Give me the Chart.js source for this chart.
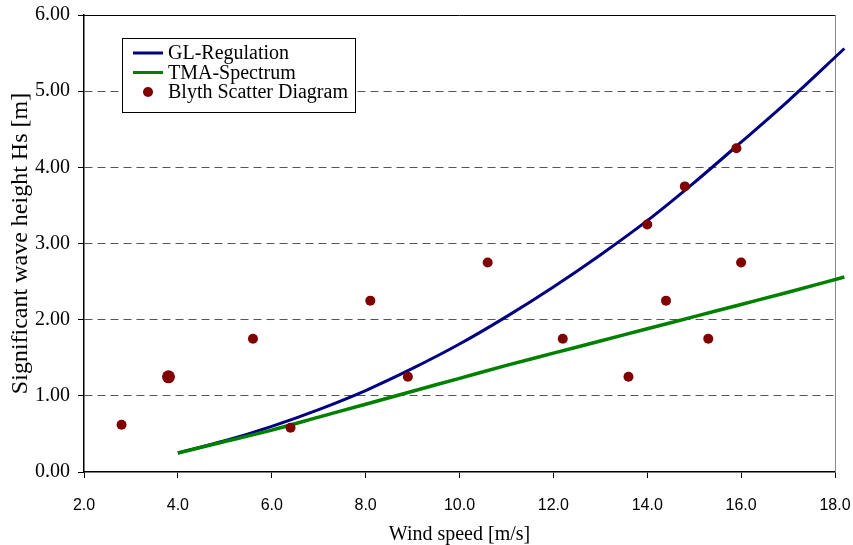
<!DOCTYPE html>
<html>
<head>
<meta charset="utf-8">
<script src="https://cdn.jsdelivr.net/npm/chart.js@4/dist/chart.umd.min.js"></script>
<style>
    html, body { margin: 0; padding: 0; background: #fff; }
    #wrap { width: 853px; height: 545px; }
</style>
</head>
<body>
<div id="wrap"><canvas id="waveChart" width="853" height="545"></canvas></div>
<script>
// ==================== ДАННЫЕ ====================

const seriesNames = ['GL-Regulation', 'TMA-Spectrum', 'Blyth Scatter Diagram'];

// ось X кривых (скорость ветра, м/с); последняя точка чуть за краем оси, как на оригинале
const curveWind = [4, 5, 6, 7, 8, 9, 10, 11, 12, 13, 14, 15, 16, 17, 18.2];
const glRegulation = [0.25, 0.41, 0.60, 0.82, 1.07, 1.36, 1.68, 2.04, 2.43, 2.85, 3.30, 3.80, 4.33, 4.87, 5.56];
const tmaSpectrum = [0.25, 0.40, 0.55, 0.72, 0.89, 1.06, 1.23, 1.40, 1.56, 1.72, 1.88, 2.04, 2.20, 2.36, 2.56];

// точки Blyth
const blythWind = [2.8, 3.8, 5.6, 6.4, 8.1, 8.9, 10.6, 12.2, 13.6, 14.0, 14.4, 14.8, 15.3, 15.9, 16.0];
const blythHs = [0.62, 1.25, 1.75, 0.58, 2.25, 1.25, 2.75, 1.75, 1.25, 3.25, 2.25, 3.75, 1.75, 4.25, 2.75];

const xRange = [2, 18];
const yRange = [0, 6];

function toPoints(xs, ys) {
    return xs.map((x, i) => ({ x: x, y: ys[i] }));
}

// ==================== ПЛАГИНЫ ====================

const serif = '"Liberation Serif", "Times New Roman", serif';
const sans = '"Liberation Sans", Arial, sans-serif';

// верхняя и правая рамка области графика
const frameLines = {
    id: 'frameLines',
    beforeDatasetsDraw(chart) {
        const { ctx, chartArea: a } = chart;
        ctx.save();
        ctx.lineWidth = 1;
        ctx.strokeStyle = '#000';
        ctx.beginPath();
        ctx.moveTo(a.left, a.top + 0.5);
        ctx.lineTo(a.right, a.top + 0.5);
        ctx.stroke();
        ctx.strokeStyle = '#888';
        ctx.beginPath();
        ctx.moveTo(a.right + 0.5, a.top);
        ctx.lineTo(a.right + 0.5, a.bottom);
        ctx.stroke();
        ctx.restore();
    }
};

// легенда в рамке внутри графика
const boxLegend = {
    id: 'boxLegend',
    afterDraw(chart) {
        const ctx = chart.ctx;
        const bx = 122, by = 38, bw = 233, bh = 74;
        const rows = seriesNames.map(name => chart.data.datasets.findIndex(d => d.label === name));
        ctx.save();
        ctx.fillStyle = '#fff';
        ctx.fillRect(bx, by, bw, bh);
        ctx.strokeStyle = '#000';
        ctx.lineWidth = 1;
        ctx.strokeRect(bx + 0.5, by + 0.5, bw, bh);
        ctx.font = '20px ' + serif;
        ctx.textBaseline = 'middle';
        rows.forEach((i, row) => {
            const ds = chart.data.datasets[i];
            const cy = by + 15 + row * 19.5;
            if (ds.showLine) {
                ctx.strokeStyle = ds.borderColor;
                ctx.lineWidth = 3;
                ctx.beginPath();
                ctx.moveTo(bx + 11, cy);
                ctx.lineTo(bx + 41, cy);
                ctx.stroke();
            } else {
                ctx.fillStyle = ds.backgroundColor;
                ctx.beginPath();
                ctx.arc(bx + 26, cy, 5, 0, Math.PI * 2);
                ctx.fill();
            }
            ctx.fillStyle = '#000';
            ctx.fillText(ds.label, bx + 46, cy + 1);
        });
        ctx.restore();
    }
};

// ==================== ГРАФИК ====================

Chart.defaults.font.family = serif;
Chart.defaults.color = '#000';

new Chart(document.getElementById('waveChart'), {
    type: 'scatter',
    data: {
        datasets: [
            {
                label: seriesNames[2],
                data: toPoints(blythWind, blythHs),
                backgroundColor: '#800000',
                borderColor: '#800000',
                borderWidth: 0,
                pointRadius: ctx => ctx.dataIndex === 1 ? 6.5 : 5,
                pointHoverRadius: ctx => ctx.dataIndex === 1 ? 6.5 : 5,
                order: 0
            },
            {
                label: seriesNames[1],
                data: toPoints(curveWind, tmaSpectrum),
                showLine: true,
                borderColor: '#008000',
                borderWidth: 3.5,
                pointRadius: 0,
                cubicInterpolationMode: 'monotone',
                clip: false,
                order: 1
            },
            {
                label: seriesNames[0],
                data: toPoints(curveWind, glRegulation),
                showLine: true,
                borderColor: '#000080',
                borderWidth: 3,
                pointRadius: 0,
                cubicInterpolationMode: 'monotone',
                clip: false,
                order: 2
            }
        ]
    },
    options: {
        responsive: false,
        animation: false,
        layout: { padding: { left: 0, top: 15, right: 18, bottom: 0 } },
        plugins: {
            legend: { display: false },
            tooltip: { enabled: false }
        },
        scales: {
            x: {
                type: 'linear',
                min: xRange[0],
                max: xRange[1],
                afterFit: s => {
                    s.height = 73;
                    s.paddingLeft = 0;
                    s.paddingRight = 0;
                },
                ticks: {
                    stepSize: 2,
                    padding: 18,
                    maxRotation: 0,
                    font: { family: sans, size: 16 },
                    callback: v => v.toFixed(1)
                },
                grid: {
                    drawOnChartArea: false,
                    tickLength: 6,
                    tickColor: '#000',
                    tickWidth: 1
                },
                border: { color: '#000', width: 1.5 },
                title: {
                    display: true,
                    text: 'Wind speed [m/s]',
                    font: { family: serif, size: 20, lineHeight: 1 },
                    padding: { top: 0, bottom: 0 }
                }
            },
            y: {
                min: yRange[0],
                max: yRange[1],
                afterFit: s => {
                    s.width = 84;
                    s.paddingTop = 0;
                    s.paddingBottom = 0;
                },
                ticks: {
                    stepSize: 1,
                    padding: 8,
                    font: { family: serif, size: 20 },
                    callback: v => v.toFixed(2)
                },
                grid: {
                    color: ctx => (ctx.tick && (ctx.tick.value === yRange[0] || ctx.tick.value === yRange[1])) ? 'rgba(0,0,0,0)' : '#555',
                    tickBorderDash: [],
                    tickLength: 6,
                    tickColor: '#000',
                    tickWidth: 1,
                    lineWidth: 1
                },
                border: { color: '#000', width: 1.5, dash: [8, 5] },
                title: {
                    display: true,
                    text: 'Significant wave height Hs [m]',
                    font: { family: serif, size: 24 },
                    padding: { top: 6, bottom: 0 }
                }
            }
        }
    },
    plugins: [frameLines, boxLegend]
});
</script>
</body>
</html>
